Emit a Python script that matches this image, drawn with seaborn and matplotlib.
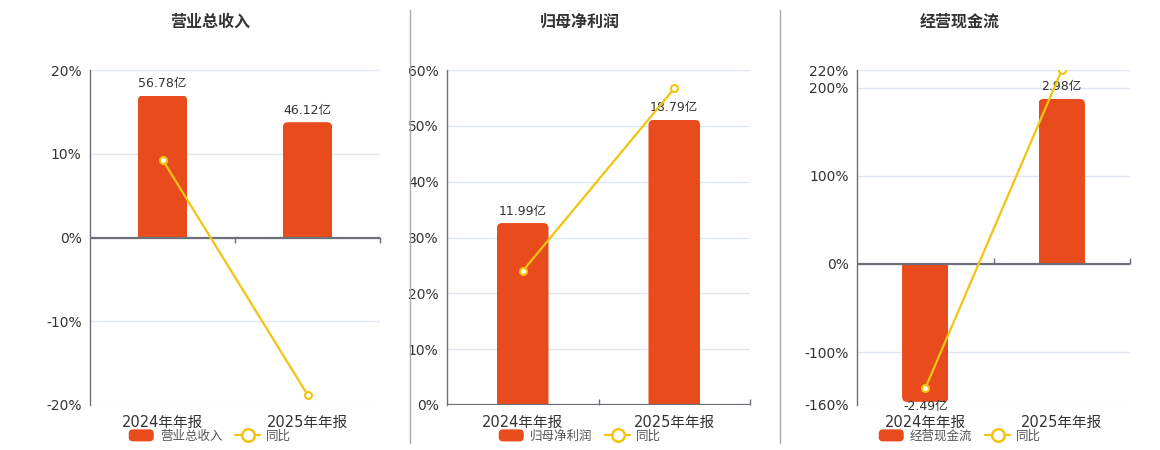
import seaborn as sns
import matplotlib.pyplot as plt
import pandas as pd
from matplotlib.patches import FancyBboxPatch, Rectangle
from matplotlib.lines import Line2D
from matplotlib.legend_handler import HandlerPatch

sns.set_theme(style='white')
plt.rcParams['font.family'] = ['DejaVu Sans', 'Noto Sans CJK SC']

# Data
periods = ['2024年年报', '2025年年报']
titles = ['营业总收入', '归母净利润', '经营现金流']
revenue = [56.78, 46.12]          # 亿
revenue_yoy = [9.29, -18.77]      # %
net_profit = [11.99, 18.79]
net_profit_yoy = [24.0, 56.7]
cash_flow = [-2.49, 2.98]
cash_flow_yoy = [-141.0, 219.7]

# percent axis ticks and ranges
pct_ticks = [[-20, -10, 0, 10, 20],
             [0, 10, 20, 30, 40, 50, 60],
             [-160, -100, 0, 100, 200, 220]]
bar_lims = [(-67.0, 67.0), (0, 22.08), (-2.546, 3.504)]

BAR = '#E84B1C'
LINE = '#F2C40F'
AXIS = '#6E7079'
GRID = '#E0E6F1'
TEXT = '#333333'

fig = plt.figure(figsize=(11.6, 4.5), dpi=100)
W, H = 1160, 450

# axes boxes in pixels: left, right, top, bottom
boxes = [(90, 380, 70, 405), (447, 750, 70, 405), (857, 1130, 70, 405)]
centers = [210, 580, 960]

panels = [(revenue, revenue_yoy), (net_profit, net_profit_yoy), (cash_flow, cash_flow_yoy)]


def rounded_handle(legend, orig_handle, xdescent, ydescent, width, height, fontsize):
    return FancyBboxPatch((-xdescent, -ydescent), width, height,
                          boxstyle='round,pad=0,rounding_size=3')


for i, ((vals, yoy), box) in enumerate(zip(panels, boxes)):
    l, r, t, b = box
    ax = fig.add_axes([l / W, (H - b) / H, (r - l) / W, (b - t) / H])
    df = pd.DataFrame({'period': periods, 'value': vals, 'yoy': yoy})

    ticks = pct_ticks[i]
    ax.set_ylim(ticks[0], ticks[-1])
    ax.set_yticks(ticks)
    ax.set_yticklabels([f'{v}%' for v in ticks], fontsize=10, color=TEXT)
    ax.tick_params(axis='y', length=0, pad=6)
    ax.grid(axis='y', color=GRID, lw=1)
    ax.set_xlim(-0.5, 1.5)
    ax.set_xticks([0, 1])
    ax.set_xticklabels(periods, fontsize=10.5, color=TEXT)
    ax.tick_params(axis='x', length=0, pad=7)
    for s in ['top', 'right', 'bottom']:
        ax.spines[s].set_visible(False)
    ax.spines['left'].set_color(AXIS)
    ax.spines['left'].set_linewidth(1)

    # bars on a twin axis
    ax2 = ax.twinx()
    sns.barplot(data=df, x='period', y='value', color=BAR, width=0.34,
                saturation=1, ax=ax2)
    ax2.set_ylim(*bar_lims[i])
    ax2.set_xlim(-0.5, 1.5)
    ax2.set_yticks([])
    ax2.set_ylabel('')
    ax2.set_xlabel('')
    for s in ax2.spines.values():
        s.set_visible(False)

    # round the outer corners of each bar
    fig.canvas.draw()
    bbox = ax2.get_window_extent()
    px_x = bbox.width / 2.0
    y0, y1 = ax2.get_ylim()
    px_y = bbox.height / (y1 - y0)
    rad = 5 / px_x
    ext = 6 / px_y
    for p in list(ax2.patches):
        x, y, w, h = p.get_x(), p.get_y(), p.get_width(), p.get_height()
        p.set_visible(False)
        if h >= 0:
            fb = FancyBboxPatch((x, y - ext), w, h + ext,
                                boxstyle=f'round,pad=0,rounding_size={rad}',
                                mutation_aspect=px_x / px_y, fc=BAR, ec='none')
            clip = Rectangle((x, 0), w, h, transform=ax2.transData)
        else:
            fb = FancyBboxPatch((x, y + h), w, -h + ext,
                                boxstyle=f'round,pad=0,rounding_size={rad}',
                                mutation_aspect=px_x / px_y, fc=BAR, ec='none')
            clip = Rectangle((x, h), w, -h, transform=ax2.transData)
        ax2.add_patch(fb)
        fb.set_clip_path(clip)

    # value labels
    for j, v in enumerate(vals):
        if v >= 0:
            ax2.annotate(f'{v:.2f}亿', (j, v), xytext=(0, 4), textcoords='offset points',
                         ha='center', va='bottom', fontsize=9, color=TEXT)
        else:
            ax2.annotate(f'{v:.2f}亿', (j, v), xytext=(0, -3), textcoords='offset points',
                         ha='center', va='center', fontsize=9, color=TEXT)

    # zero line on top of bars, ticks at category boundaries
    ax2.axhline(0, color=AXIS, lw=1.6, zorder=5)
    bt = ax2.secondary_xaxis((0 - y0) / (y1 - y0))
    bt.set_xticks([0.5, 1.5])
    bt.set_xticklabels([])
    bt.tick_params(axis='x', direction='in', length=4, color=AXIS, width=1)
    bt.spines['bottom'].set_visible(False)
    bt.spines['top'].set_visible(False)

    # yoy line on another twin, sharing percent scale
    ax3 = ax.twinx()
    sns.lineplot(data=df, x='period', y='yoy', color=LINE, lw=1.6, marker='o',
                 markersize=5, markerfacecolor='white', markeredgecolor=LINE,
                 markeredgewidth=1.5, ax=ax3)
    ax3.set_ylim(ticks[0], ticks[-1])
    ax3.set_xlim(-0.5, 1.5)
    ax3.set_yticks([])
    ax3.set_ylabel('')
    ax3.set_xlabel('')
    for s in ax3.spines.values():
        s.set_visible(False)
    ax.set_xlabel('')

    fig.text(centers[i] / W, 1 - 22 / H, titles[i], ha='center', va='center',
             fontsize=11.5, fontweight='bold', color=TEXT)

    handles = [
        Rectangle((0, 0), 1, 1, fc=BAR, ec='none'),
        Line2D([], [], color=LINE, lw=1.6, marker='o', markersize=9,
               markerfacecolor='white', markeredgecolor=LINE, markeredgewidth=1.8),
    ]
    fig.legend(handles, [titles[i], '同比'], loc='center',
               bbox_to_anchor=(centers[i] / W, 1 - 436 / H), ncol=2,
               frameon=False, fontsize=9, handlelength=2.0, handleheight=1.1,
               columnspacing=1.0, handletextpad=0.5, labelcolor='#555555',
               handler_map={Rectangle: HandlerPatch(patch_func=rounded_handle)})

# panel dividers
for xd in [410, 780]:
    fig.add_artist(Line2D([xd / W, xd / W], [1 - 10 / H, 1 - 443 / H],
                          color='#AAAAAA', lw=1))

plt.savefig('out.png', dpi=100)
